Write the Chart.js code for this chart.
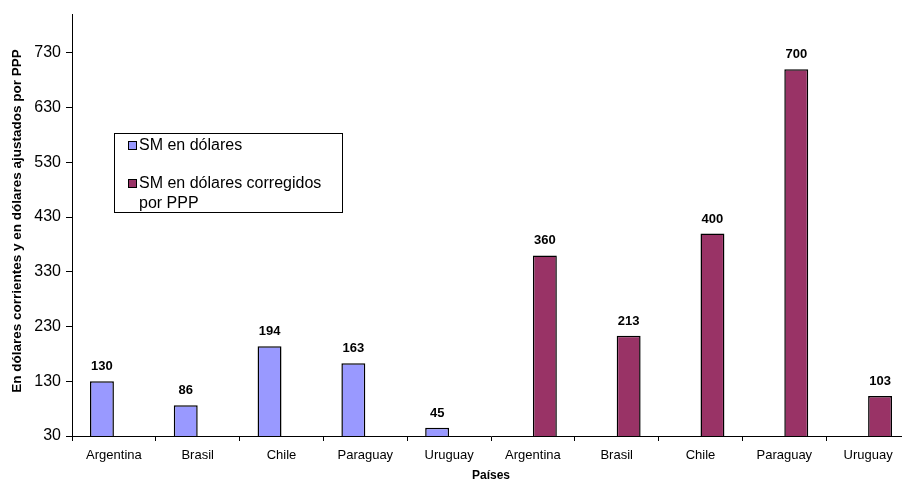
<!DOCTYPE html>
<html>
<head>
<meta charset="utf-8">
<script src="https://cdn.jsdelivr.net/npm/chart.js@4/dist/chart.umd.min.js"></script>
<style>
html,body{margin:0;padding:0;background:#fff;overflow:hidden;}
#wrap{width:912px;height:483px;position:relative;}
canvas{display:block;}
</style>
</head>
<body>
<div id="wrap"><canvas id="c" width="912" height="483"></canvas></div>
<script>
const categories = ["Argentina","Brasil","Chile","Paraguay","Uruguay","Argentina","Brasil","Chile","Paraguay","Uruguay"];
const smDolares = [130, 86, 194, 163, 45, null, null, null, null, null];
const smPPP = [null, null, null, null, null, 360, 213, 400, 700, 103];
const yTicks = [30, 130, 230, 330, 430, 530, 630, 730];
const seriesNames = ["SM en dólares", "SM en dólares corregidos por PPP"];
const legendLines = [["SM en dólares"], ["SM en dólares corregidos", "por PPP"]];
const yTitle = "En dólares corrientes y en dólares ajustados por PPP";
const xTitle = "Países";
const FONT = "Arial, 'Liberation Sans', sans-serif";

const labelPlugin = {
  id: 'valueLabels',
  afterDatasetsDraw(chart) {
    const ctx = chart.ctx;
    ctx.save();
    ctx.font = "bold 13px " + FONT;
    ctx.fillStyle = "#000";
    ctx.textAlign = "center";
    ctx.textBaseline = "bottom";
    chart.data.datasets.forEach((ds, i) => {
      const meta = chart.getDatasetMeta(i);
      meta.data.forEach((el, j) => {
        const v = ds.data[j];
        if (v === null || v === undefined) return;
        ctx.fillText(String(v), el.x, el.y - 8);
      });
    });
    ctx.restore();
  }
};

const yTitlePlugin = {
  id: 'yTitle',
  afterDraw(chart) {
    const ctx = chart.ctx;
    ctx.save();
    ctx.translate(17, 221);
    ctx.rotate(-Math.PI / 2);
    ctx.font = "bold 13.5px " + FONT;
    ctx.fillStyle = "#000";
    ctx.textAlign = "center";
    ctx.textBaseline = "middle";
    ctx.fillText(yTitle, 0, 0);
    ctx.restore();
  }
};

const legendPlugin = {
  id: 'boxLegend',
  afterDraw(chart) {
    const ctx = chart.ctx;
    ctx.save();
    const x0 = 114, y0 = 133, w = 228, h = 79;
    ctx.fillStyle = "#fff";
    ctx.fillRect(x0, y0, w, h);
    ctx.strokeStyle = "#000";
    ctx.lineWidth = 1;
    ctx.strokeRect(x0 + 0.5, y0 + 0.5, w, h);
    ctx.font = "16px " + FONT;
    ctx.textBaseline = "middle";
    ctx.textAlign = "left";
    const rows = [145, 183];
    chart.data.datasets.forEach((ds, i) => {
      const cy = rows[i];
      ctx.fillStyle = ds.backgroundColor;
      ctx.fillRect(128, cy - 4, 8, 8);
      ctx.strokeStyle = "#000";
      ctx.strokeRect(128.5, cy - 3.5, 8, 8);
      ctx.fillStyle = "#000";
      legendLines[i].forEach((line, k) => {
        ctx.fillText(line, 139, cy + 1 + k * 20);
      });
    });
    ctx.restore();
  }
};

new Chart(document.getElementById('c'), {
  type: 'bar',
  data: {
    labels: categories,
    datasets: [
      { label: seriesNames[0], data: smDolares, backgroundColor: '#9999FF', borderColor: '#000', borderWidth: 1.5, borderSkipped: false },
      { label: seriesNames[1], data: smPPP, backgroundColor: '#993366', borderColor: '#000', borderWidth: 1.5, borderSkipped: false }
    ]
  },
  options: {
    responsive: false,
    animation: false,
    devicePixelRatio: 1,
    layout: { padding: { top: 14, right: 2, left: 0, bottom: 0 } },
    plugins: { legend: { display: false }, tooltip: { enabled: false } },
    datasets: { bar: { categoryPercentage: 0.571, barPercentage: 1.0 } },
    scales: {
      x: {
        grid: { display: true, drawOnChartArea: false, drawTicks: true, tickLength: 5, color: '#000', offset: true },
        border: { display: true, color: '#000' },
        ticks: { color: '#000', font: { family: FONT, size: 13 }, padding: 7, maxRotation: 0, autoSkip: false },
        title: { display: true, text: xTitle, color: '#000', font: { family: FONT, size: 12, weight: 'bold' }, padding: { top: 0, bottom: 0 } },
        afterFit(s) { s.height = 47; }
      },
      y: {
        min: 30, max: 800,
        afterBuildTicks(s) { s.ticks = yTicks.map(v => ({ value: v })); },
        grid: { display: true, drawOnChartArea: false, drawTicks: true, tickLength: 6, color: '#000' },
        border: { display: true, color: '#000' },
        ticks: { color: '#000', font: { family: FONT, size: 16 }, padding: 5 },
        afterFit(s) { s.width = 72; }
      }
    }
  },
  plugins: [labelPlugin, yTitlePlugin, legendPlugin]
});
</script>
</body>
</html>
